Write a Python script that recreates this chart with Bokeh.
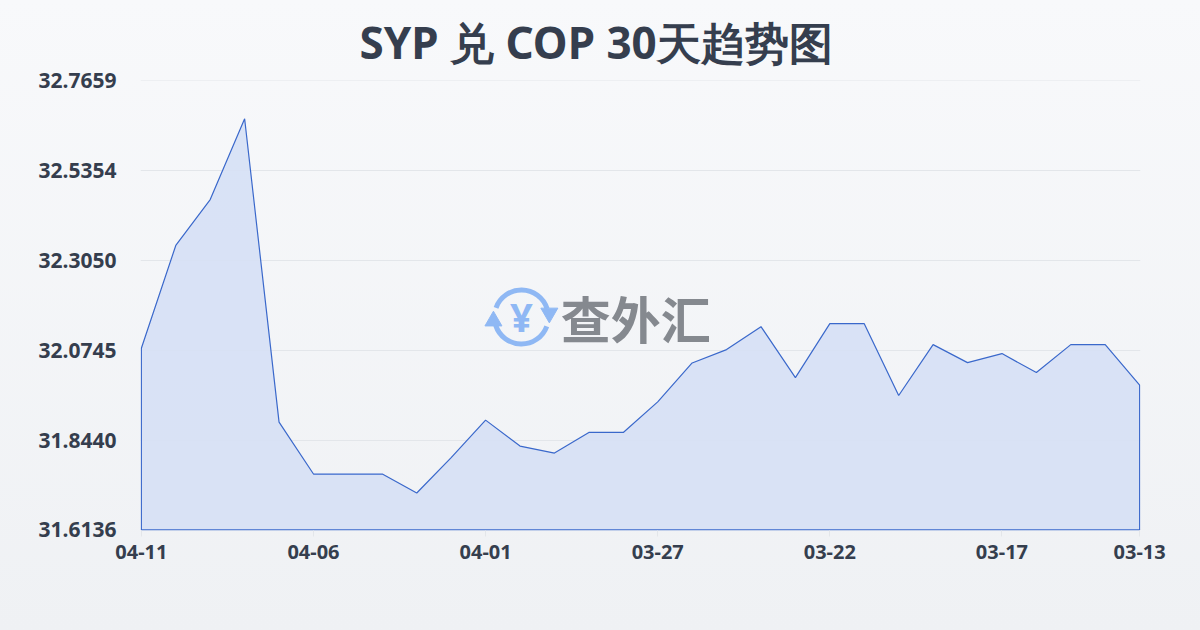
import math
from bokeh.plotting import figure
from bokeh.models import FixedTicker, Title, NumeralTickFormatter
from bokeh.core.properties import value
from bokeh.embed import file_html
from bokeh.resources import INLINE

dates = ["04-11", "04-10", "04-09", "04-08", "04-07", "04-06", "04-05", "04-04", "04-03", "04-02",
         "04-01", "03-31", "03-30", "03-29", "03-28", "03-27", "03-26", "03-25", "03-24", "03-23",
         "03-22", "03-21", "03-20", "03-19", "03-18", "03-17", "03-16", "03-15", "03-14", "03-13"]
rates = [32.0796, 32.3434, 32.4612, 32.6686, 31.8901, 31.7570, 31.7570, 31.7570, 31.7083, 31.7989,
         31.8953, 31.8287, 31.8108, 31.8637, 31.8637, 31.9421, 32.0420, 32.0762, 32.1351, 32.0045,
         32.1428, 32.1428, 31.9584, 32.0890, 32.0429, 32.0660, 32.0173, 32.0890, 32.0890, 31.9849]
y_ticks = [31.6136, 31.8440, 32.0745, 32.3050, 32.5354, 32.7659]
x_tick_idx = [0, 5, 10, 15, 20, 25, 29]
title_text = "SYP 兑 COP 30天趋势图"

FONT = "Noto Sans"
TXT = "#353e4e"

n = len(rates)
xs = list(range(n))
ymin, ymax = y_ticks[0], y_ticks[-1]

p = figure(width=1200, height=630, output_backend="svg", toolbar_location=None,
           x_range=(-0.025, n - 1 + 0.025), y_range=(ymin - 0.0015, ymax + 0.0008),
           min_border_left=140, min_border_right=60, min_border_top=80, min_border_bottom=100)
p.background_fill_alpha = 0
p.border_fill_alpha = 0
p.outline_line_color = None

# title
p.add_layout(Title(text=title_text, align="left", offset=219, standoff=18,
                   text_font=FONT, text_font_size="44px", text_font_style="bold",
                   text_color=TXT), "above")

p.xgrid.grid_line_color = None
p.ygrid.grid_line_color = "#e3e6ea"
p.ygrid.grid_line_width = 1

# area
p.patch(xs + [n - 1, 0], rates + [ymin, ymin], fill_color="#d6e0f5", fill_alpha=0.9,
        line_color="#3a68cb", line_width=1.2)

# axes
p.yaxis.ticker = FixedTicker(ticks=y_ticks)
p.yaxis.formatter = NumeralTickFormatter(format="0.0000")
p.yaxis.axis_line_color = None
p.yaxis.major_tick_line_color = None
p.yaxis.minor_tick_line_color = None
p.yaxis.major_label_standoff = 18
p.yaxis.major_label_text_font = FONT
p.yaxis.major_label_text_font_size = "21px"
p.yaxis.major_label_text_font_style = "bold"
p.yaxis.major_label_text_color = TXT

p.xaxis.ticker = FixedTicker(ticks=x_tick_idx)
p.xaxis.major_label_overrides = {i: dates[i] for i in x_tick_idx}
p.xaxis.axis_line_color = None
p.xaxis.major_tick_line_color = "#e3e6ea"
p.xaxis.major_tick_out = 6
p.xaxis.major_tick_in = 0
p.xaxis.minor_tick_line_color = None
p.xaxis.major_label_standoff = 8
p.xaxis.major_label_text_font = FONT
p.xaxis.major_label_text_font_size = "20px"
p.xaxis.major_label_text_font_style = "bold"
p.xaxis.major_label_text_color = TXT

# watermark (decorative)
PXX = (n - 1) / 1000.0
PXY = (ymax - ymin) / 450.0
wx, wy = 11.04, 32.1598
R = 27
BLUE = "#8fb8f4"
p.arc(x=[wx], y=[wy], radius=R, radius_units="screen", start_angle=math.radians(18),
      end_angle=math.radians(160), line_color=BLUE, line_width=5)
p.arc(x=[wx], y=[wy], radius=R, radius_units="screen", start_angle=math.radians(198),
      end_angle=math.radians(340), line_color=BLUE, line_width=5)
p.scatter(x=[wx + 28 * PXX, wx - 28 * PXX], y=[wy + 4 * PXY, wy - 4 * PXY], marker="triangle",
          size=17, angle=[math.pi, 0.0], fill_color=BLUE, line_color=BLUE)
p.text(x=[wx], y=[wy + 1 * PXY], text=["¥"], text_font=value(FONT), text_font_size="40px",
       text_font_style="bold", text_color=BLUE, text_align="center", text_baseline="middle")
p.text(x=[(560 - 140) * PXX], y=[wy], text=["查外汇"], text_font=value("Noto Sans CJK SC"),
       text_font_size="50px", text_font_style="bold", text_color="#85898f",
       text_align="left", text_baseline="middle")

html = file_html(p, INLINE)
style = ("<style>html,body{margin:0;padding:0;overflow:hidden;"
         "background:linear-gradient(#f8f9fb,#eff1f4);min-height:630px;}</style>")
html = html.replace("</head>", style + "</head>", 1)
open("out.html", "w").write(html)
